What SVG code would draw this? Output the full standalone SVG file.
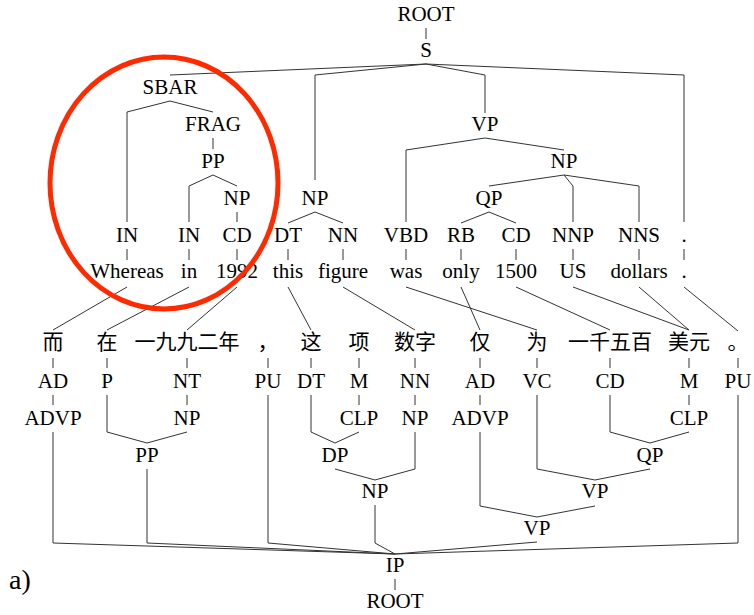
<svg xmlns="http://www.w3.org/2000/svg" width="754" height="615" viewBox="0 0 754 615">
<style>
.e{fill:none;stroke:#333;stroke-width:1}
</style>
<rect width="754" height="615" fill="#fff"/>
<g id="connectors" class="e">
<path d="M426,28V39"/>
<path d="M426,64L170,75"/>
<path d="M426,64L315,75V180"/>
<path d="M426,64L485,75V113"/>
<path d="M426,64L684,75V222"/>
<path d="M170,101L127,112V222"/>
<path d="M170,101L213,112"/>
<path d="M213,138V149"/>
<path d="M213,175L189,186V222"/>
<path d="M213,175L237,186"/>
<path d="M237,212V222"/>
<path d="M315,212L288,223"/>
<path d="M315,212L343,223"/>
<path d="M485,138L406,150V222"/>
<path d="M485,138L564,150"/>
<path d="M564,175L489,186"/>
<path d="M564,175L573,186V222"/>
<path d="M564,175L639,186V222"/>
<path d="M489,212L461,223"/>
<path d="M489,212L516,223"/>
<path d="M127,249V260M189,249V260M237,249V260M288,249V260M343,249V260M406,249V260M461,249V260M516,249V260M573,249V260M639,249V260M684,249V260"/>
<path d="M127,287L53,330M189,287L107,330M237,287L187,330M288,287L311,330M343,287L415,330M406,287L537,330M461,287L480,330M516,287L610,330M573,287L689,330M639,287L689,330M684,287L738,331"/>
<path d="M53,358V368M107,358V368M187,358V368M268,358V368M311,358V368M359,358V368M415,358V368M480,358V368M537,358V368M610,358V368M689,358V368M738,358V368"/>
<path d="M53,395V405M187,395V405M359,395V405M415,395V405M480,395V405M689,395V405"/>
<path d="M53,432V543L395,554"/>
<path d="M107,395V432L147,443"/>
<path d="M187,432L147,443"/>
<path d="M147,469V543L395,554"/>
<path d="M268,395V543L395,554"/>
<path d="M311,395V432L335,443"/>
<path d="M359,432L335,443"/>
<path d="M335,469L375,480"/>
<path d="M415,432V469L375,480"/>
<path d="M375,505V543L395,554"/>
<path d="M610,395V432L650,443"/>
<path d="M689,432L650,443"/>
<path d="M537,395V469L595,480"/>
<path d="M650,469L595,480"/>
<path d="M480,432V506L537,517"/>
<path d="M595,506L537,517"/>
<path d="M537,542L395,554"/>
<path d="M738,395V543L395,554"/>
<path d="M395,579V590"/>
</g>
<g id="nodes" font-family="Liberation Serif, Times New Roman, serif" font-size="21" text-anchor="middle" fill="#000">
<g id="en-root"><text x="426" y="21">ROOT</text></g>
<g id="en-s"><text x="426" y="57">S</text></g>
<g id="en-sbar"><text x="170" y="94">SBAR</text></g>
<g id="en-frag"><text x="213" y="131">FRAG</text></g>
<g id="en-pp"><text x="213" y="168">PP</text></g>
<g id="en-np1"><text x="237" y="205">NP</text></g>
<g id="en-np2"><text x="315" y="205">NP</text></g>
<g id="en-vp"><text x="485" y="131">VP</text></g>
<g id="en-np3"><text x="564" y="168">NP</text></g>
<g id="en-qp"><text x="489" y="205">QP</text></g>
<g id="en-in1"><text x="127" y="242">IN</text></g>
<g id="en-in2"><text x="189" y="242">IN</text></g>
<g id="en-cd1"><text x="237" y="242">CD</text></g>
<g id="en-dt"><text x="288" y="242">DT</text></g>
<g id="en-nn"><text x="343" y="242">NN</text></g>
<g id="en-vbd"><text x="406" y="242">VBD</text></g>
<g id="en-rb"><text x="461" y="242">RB</text></g>
<g id="en-cd2"><text x="516" y="242">CD</text></g>
<g id="en-nnp"><text x="573" y="242">NNP</text></g>
<g id="en-nns"><text x="639" y="242">NNS</text></g>
<g id="en-punct"><text x="684" y="242">.</text></g>
<g id="w-whereas"><text x="127" y="278">Whereas</text></g>
<g id="w-in"><text x="189" y="278">in</text></g>
<g id="w-1992"><text x="237" y="278">1992</text></g>
<g id="w-this"><text x="288" y="278">this</text></g>
<g id="w-figure"><text x="343" y="278">figure</text></g>
<g id="w-was"><text x="406" y="278">was</text></g>
<g id="w-only"><text x="461" y="278">only</text></g>
<g id="w-1500"><text x="516" y="278">1500</text></g>
<g id="w-us"><text x="573" y="278">US</text></g>
<g id="w-dollars"><text x="639" y="278">dollars</text></g>
<g id="w-dot"><text x="684" y="278">.</text></g>
<g id="zh-words" font-family="Noto Sans CJK SC, sans-serif">
<g id="zh-w1"><text x="53" y="349">而</text></g>
<g id="zh-w2"><text x="107" y="349">在</text></g>
<g id="zh-w3"><text x="187" y="349">一九九二年</text></g>
<g id="zh-w4"><text x="268" y="349">，</text></g>
<g id="zh-w5"><text x="311" y="349">这</text></g>
<g id="zh-w6"><text x="359" y="349">项</text></g>
<g id="zh-w7"><text x="415" y="349">数字</text></g>
<g id="zh-w8"><text x="480" y="349">仅</text></g>
<g id="zh-w9"><text x="537" y="349">为</text></g>
<g id="zh-w10"><text x="610" y="349">一千五百</text></g>
<g id="zh-w11"><text x="689" y="349">美元</text></g>
<g id="zh-w12"><text x="738" y="349">。</text></g>
</g>
<g id="zh-ad1"><text x="53" y="388">AD</text></g>
<g id="zh-p"><text x="107" y="388">P</text></g>
<g id="zh-nt"><text x="187" y="388">NT</text></g>
<g id="zh-pu1"><text x="268" y="388">PU</text></g>
<g id="zh-dt"><text x="311" y="388">DT</text></g>
<g id="zh-m1"><text x="359" y="388">M</text></g>
<g id="zh-nn"><text x="415" y="388">NN</text></g>
<g id="zh-ad2"><text x="480" y="388">AD</text></g>
<g id="zh-vc"><text x="537" y="388">VC</text></g>
<g id="zh-cd"><text x="610" y="388">CD</text></g>
<g id="zh-m2"><text x="689" y="388">M</text></g>
<g id="zh-pu2"><text x="738" y="388">PU</text></g>
<g id="zh-advp1"><text x="53" y="425">ADVP</text></g>
<g id="zh-np1"><text x="187" y="425">NP</text></g>
<g id="zh-clp1"><text x="359" y="425">CLP</text></g>
<g id="zh-np2"><text x="415" y="425">NP</text></g>
<g id="zh-advp2"><text x="480" y="425">ADVP</text></g>
<g id="zh-clp2"><text x="689" y="425">CLP</text></g>
<g id="zh-pp"><text x="147" y="462">PP</text></g>
<g id="zh-dp"><text x="335" y="462">DP</text></g>
<g id="zh-qp"><text x="650" y="462">QP</text></g>
<g id="zh-np3"><text x="375" y="498">NP</text></g>
<g id="zh-vp1"><text x="595" y="498">VP</text></g>
<g id="zh-vp2"><text x="537" y="535">VP</text></g>
<g id="zh-ip"><text x="395" y="572">IP</text></g>
<g id="zh-root"><text x="395" y="608">ROOT</text></g>
<g id="label-a"><text x="9" y="589" text-anchor="start" font-size="28">a)</text></g>
</g>
<g id="highlight"><ellipse cx="164" cy="183" rx="114" ry="126" fill="none" stroke="#ff2a00" stroke-width="5"/></g>
</svg>
